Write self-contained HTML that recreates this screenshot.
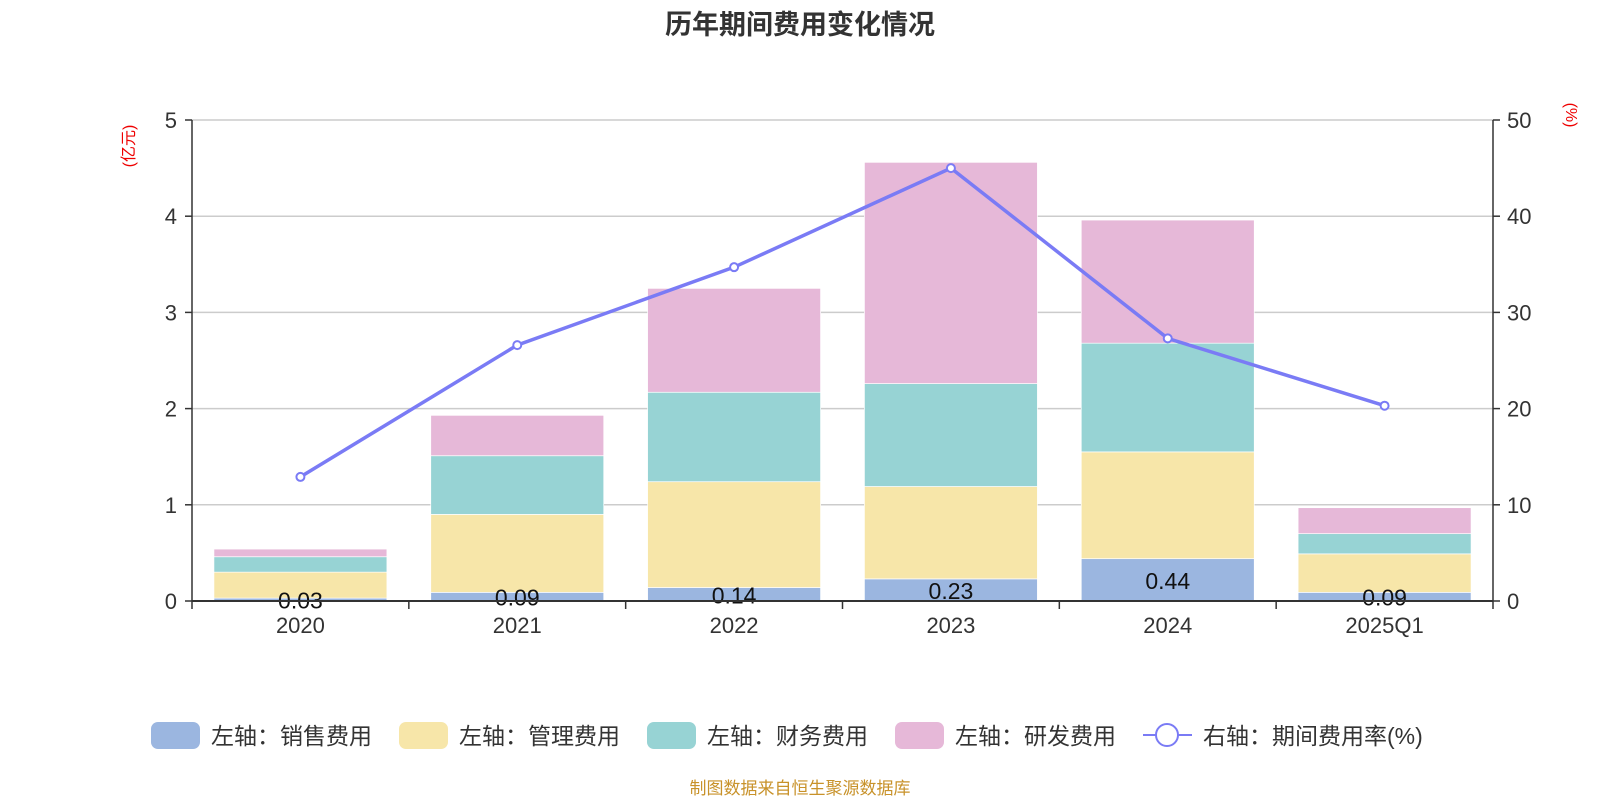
<!DOCTYPE html>
<html><head><meta charset="utf-8"><style>
html,body{margin:0;padding:0;background:#fff;}
svg{display:block;font-family:"Liberation Sans","Noto Sans CJK SC",sans-serif;}
</style></head><body>
<svg id="chart" width="1600" height="800" viewBox="0 0 1600 800" xmlns="http://www.w3.org/2000/svg">
<text x="800" y="34" text-anchor="middle" font-size="27" font-weight="bold" fill="#333">历年期间费用变化情况</text>
<text transform="translate(134,146) rotate(-90)" text-anchor="middle" font-size="16" fill="#e00">(亿元)</text>
<text transform="translate(1566,115) rotate(90)" text-anchor="middle" font-size="16" fill="#e00">(%)</text>
<g id="grid"></g><g id="bars"></g><g id="axes"></g><g id="line"></g><g id="legend"></g>
<text x="800" y="794" text-anchor="middle" font-size="17" fill="#c8922a">制图数据来自恒生聚源数据库</text>
</svg>
<script>
const categories=["2020","2021","2022","2023","2024","2025Q1"];
const sales=[0.03,0.09,0.14,0.23,0.44,0.09];
const manage=[0.27,0.81,1.10,0.96,1.11,0.40];
const finance=[0.16,0.61,0.93,1.07,1.13,0.21];
const rd=[0.08,0.42,1.08,2.30,1.28,0.27];
const rate=[12.9,26.6,34.7,45.0,27.3,20.3];
const leftTicks=[0,1,2,3,4,5];
const rightTicks=[0,10,20,30,40,50];
const NS="http://www.w3.org/2000/svg";
const X0=192,X1=1493,Y0=601,Y1=120;
const band=(X1-X0)/categories.length;
const xc=i=>X0+band*(i+0.5);
const yL=v=>Y0-(v/5)*(Y0-Y1);
const yR=v=>Y0-(v/50)*(Y0-Y1);
function mk(tag,attrs,parent,text){const e=document.createElementNS(NS,tag);for(const k in attrs)e.setAttribute(k,attrs[k]);if(text!==undefined)e.textContent=text;document.getElementById(parent).appendChild(e);return e;}
leftTicks.forEach((t,i)=>{
 if(t>0){const g=mk('line',{x1:X0,x2:X1,y1:yL(t),y2:yL(t),stroke:'#ccc','stroke-width':1.5},'grid');
 
 }
 const lt=mk('text',{x:X0-15,y:yL(t)+8,'text-anchor':'end','font-size':22,fill:'#333'},'axes',t);
 
 
 mk('line',{x1:X0-7,x2:X0,y1:yL(t),y2:yL(t),stroke:'#333','stroke-width':1.5},'axes');
});
rightTicks.forEach(t=>{
 const rt=mk('text',{x:X1+14,y:yR(t)+8,'text-anchor':'start','font-size':22,fill:'#333'},'axes',t);
 
 
 mk('line',{x1:X1,x2:X1+7,y1:yR(t),y2:yR(t),stroke:'#333','stroke-width':1.5},'axes');
});
mk('line',{x1:X0,x2:X0,y1:Y1,y2:Y0,stroke:'#333','stroke-width':1.5},'axes');
mk('line',{x1:X1,x2:X1,y1:Y1,y2:Y0,stroke:'#333','stroke-width':1.5},'axes');
mk('line',{x1:X0,x2:X1,y1:Y0,y2:Y0,stroke:'#333','stroke-width':2},'axes');
for(let i=0;i<=categories.length;i++)mk('line',{x1:X0+band*i,x2:X0+band*i,y1:Y0,y2:Y0+8,stroke:'#333','stroke-width':1.5},'axes');
categories.forEach((c,i)=>{const t=mk('text',{x:xc(i),y:Y0+32,'text-anchor':'middle','font-size':22,fill:'#333'},'axes',c);
 
 });
const series=[[sales,'#9bb6e0','sales'],[manage,'#f7e6a9','manage'],[finance,'#97d3d4','finance'],[rd,'#e6b8d8','rd']];
const bw=173;
categories.forEach((c,i)=>{let base=0;
 series.forEach(([arr,col,nm])=>{const v=arr[i];
  const r=mk('rect',{x:xc(i)-bw/2,y:yL(base+v),width:bw,height:yL(base)-yL(base+v),fill:col,stroke:'#fff','stroke-width':0.7},'bars');
  
  
  base+=v;});
 const lb=mk('text',{x:xc(i),y:(yL(0)+yL(sales[i]))/2+9,'text-anchor':'middle','font-size':23,fill:'#111'},'bars',sales[i].toFixed(2));
 
 
});
const pts=rate.map((v,i)=>xc(i)+','+yR(v)).join(' ');
const pl=mk('polyline',{points:pts,fill:'none',stroke:'#7a7bf5','stroke-width':3.5},'line');


rate.forEach((v,i)=>{const c=mk('circle',{cx:xc(i),cy:yR(v),r:4,fill:'#fff',stroke:'#7a7bf5','stroke-width':2},'line');
 
 });
const legendItems=[['左轴：销售费用','#9bb6e0',151],['左轴：管理费用','#f7e6a9',399],['左轴：财务费用','#97d3d4',647],['左轴：研发费用','#e6b8d8',895]];
legendItems.forEach(([t,col,x])=>{
 const r=mk('rect',{x:x,y:722,width:49,height:27,rx:7,fill:col},'legend');
 
 
 const tx=mk('text',{x:x+60,y:744,'font-size':23,fill:'#333'},'legend',t);
 
 
});
mk('line',{x1:1143,x2:1192,y1:735,y2:735,stroke:'#7a7bf5','stroke-width':2},'legend');
const lc=mk('circle',{cx:1167,cy:735,r:11,fill:'#fff',stroke:'#7a7bf5','stroke-width':2},'legend');


const lt2=mk('text',{x:1203,y:744,'font-size':23,fill:'#333'},'legend','右轴：期间费用率(%)');


</script>
</body></html>
